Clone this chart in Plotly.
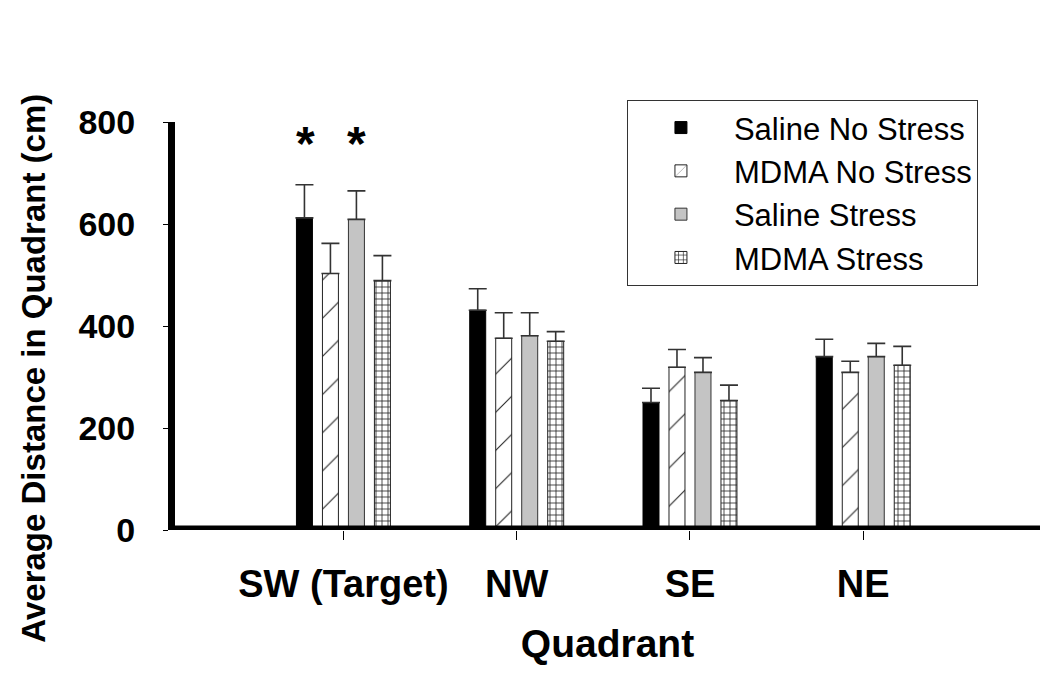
import plotly.graph_objects as go

quadrants = ["SW (Target)", "NW", "SE", "NE"]
groups = ["Saline No Stress", "MDMA No Stress", "Saline Stress", "MDMA Stress"]

saline_no_stress = [612, 431, 250, 340]
saline_no_stress_sem = [65, 42, 28, 34]
mdma_no_stress = [503, 376, 319, 309]
mdma_no_stress_sem = [59, 50, 35, 22]
saline_stress = [609, 381, 309, 340]
saline_stress_sem = [56, 45, 29, 26]
mdma_stress = [489, 370, 254, 323]
mdma_stress_sem = [49, 19, 30, 37]

significance_y = 757
significant_series = ["Saline No Stress", "Saline Stress"]

FONT = "Liberation Sans, Arial, sans-serif"

styles = {
    "Saline No Stress": dict(color="black", marker_line_color="black", pattern=None),
    "MDMA No Stress": dict(color="white", marker_line_color="#222",
                           pattern=dict(shape="/", size=27, solidity=0.04, fgcolor="#222",
                                        bgcolor="white", fillmode="replace")),
    "Saline Stress": dict(color="#c4c4c4", marker_line_color="#333", pattern=None),
    "MDMA Stress": dict(color="white", marker_line_color="#222",
                        pattern=dict(shape="+", size=6, solidity=0.25, fgcolor="#222",
                                     bgcolor="white", fillmode="replace")),
}

values = [saline_no_stress, mdma_no_stress, saline_stress, mdma_stress]
sems = [saline_no_stress_sem, mdma_no_stress_sem, saline_stress_sem, mdma_stress_sem]

fig = go.Figure()
for i, (name, vals, err) in enumerate(zip(groups, values, sems)):
    st = styles[name]
    marker = dict(color=st["color"], line=dict(color=st["marker_line_color"], width=1))
    if st["pattern"] is not None:
        marker["pattern"] = st["pattern"]
    fig.add_trace(go.Bar(
        name=name, x=quadrants, y=vals, marker=marker,
        error_y=dict(type="data", array=err, arrayminus=[0] * len(err), symmetric=False,
                     color="#333", thickness=1.6, width=9),
    ))

# significance asterisks
offsets_px = {"Saline No Stress": -38, "MDMA No Stress": -12.5, "Saline Stress": 13.5, "MDMA Stress": 40}
for name in significant_series:
    fig.add_annotation(x=quadrants[0], y=significance_y, xref="x", yref="y",
                       text="*", showarrow=False, xshift=offsets_px[name],
                       font=dict(family=FONT, size=48, color="black", weight="bold"),
                       yanchor="middle")

# y-axis title (placed as in the reference, slightly below the plot centre)
fig.add_annotation(text="Average Distance in Quadrant (cm)", xref="paper", yref="paper",
                   x=-0.1646, y=0.397, xanchor="center", yanchor="middle",
                   textangle=-90, showarrow=False,
                   font=dict(family=FONT, size=33, color="black", weight="bold"))

# bottom axis line drawn on top of bars
fig.add_shape(type="line", xref="paper", yref="y", x0=0, x1=1, y0=0, y1=0,
              line=dict(color="black", width=9), layer="above")

fig.update_layout(
    width=1042, height=666,
    margin=dict(l=166.5, r=10, t=113.7, b=144, autoexpand=False),
    paper_bgcolor="white", plot_bgcolor="white",
    barmode="group", bargap=0.4, bargroupgap=0.385,
    font=dict(family=FONT, color="black"),
    showlegend=True,
    legend=dict(xref="container", yref="container", x=0.594, y=0.862,
                xanchor="left", yanchor="top",
                bgcolor="white", bordercolor="#333", borderwidth=1,
                font=dict(family=FONT, size=31, color="black"),
                itemwidth=96, entrywidth=250, entrywidthmode="pixels"),
    xaxis=dict(range=[-0.972, 4.02], showline=False, showgrid=False, zeroline=False,
               automargin=False,
               ticks="outside", ticklen=9, tickwidth=1, tickcolor="black",
               tickfont=dict(family=FONT, size=38, color="black", weight="bold"),
               ticklabelstandoff=11,
               title=dict(text="Quadrant",
                          font=dict(family=FONT, size=39, color="black", weight="bold"),
                          standoff=26)),
    yaxis=dict(range=[0, 800], tickvals=[0, 200, 400, 600, 800], showline=True,
               automargin=False,
               linewidth=7, linecolor="black", showgrid=False, zeroline=False,
               ticks="outside", ticklen=5, tickwidth=1, tickcolor="black",
               tickfont=dict(family=FONT, size=34, color="black", weight="bold"),
               ticklabelstandoff=21),
)

fig.write_html("out.html")
